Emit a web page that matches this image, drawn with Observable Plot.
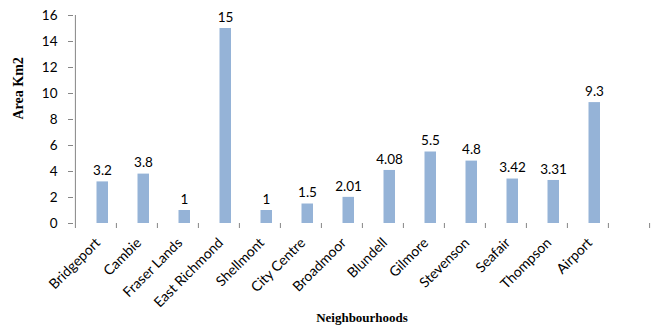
<!DOCTYPE html>
<html>
<head>
<meta charset="utf-8">
<script src="https://cdn.jsdelivr.net/npm/d3@7"></script>
<script src="https://cdn.jsdelivr.net/npm/@observablehq/plot@0.6"></script>
<style>
  html, body { margin: 0; padding: 0; background: #fff; }
  #chart svg { display: block; }
</style>
</head>
<body>
<div id="chart"></div>
<script>
const neighbourhoods = ["Bridgeport", "Cambie", "Fraser Lands", "East Richmond", "Shellmont", "City Centre", "Broadmoor", "Blundell", "Gilmore", "Stevenson", "Seafair", "Thompson", "Airport"];
const areas = [3.2, 3.8, 1, 15, 1, 1.5, 2.01, 4.08, 5.5, 4.8, 3.42, 3.31, 9.3];
const yTicks = [0, 2, 4, 6, 8, 10, 12, 14, 16];
const yTitle = "Area Km2";
const xTitle = "Neighbourhoods";

const data = neighbourhoods.map((n, i) => ({name: n, area: areas[i]}));
const domain = [...neighbourhoods, " "]; // trailing empty category slot

const W = 656, H = 334;
const mL = 73, mR = 6, mT = 15, mB = 111;
const slot = (W - mL - mR) / domain.length;
const gray = "#868686";
const sans = "Lato, 'Open Sans', sans-serif";
const serif = "'Liberation Serif', 'DejaVu Serif', serif";

const chart = Plot.plot({
  width: W,
  height: H,
  marginLeft: mL,
  marginRight: mR,
  marginTop: mT,
  marginBottom: mB,
  style: {fontFamily: sans, fontSize: "13px", color: "#000", background: "#fff"},
  x: {type: "band", domain, padding: 0},
  y: {domain: [0, 16]},
  marks: [
    // gridlines
    Plot.ruleY(yTicks, {y: d => d, x1: domain[0], x2: domain[domain.length - 1], stroke: gray, strokeWidth: 1}),
    // y axis line
    Plot.ruleX([domain[0]], {x: d => d, y1: 0, y2: 16, dx: -slot / 2, stroke: gray}),
    // y tick marks + labels
    Plot.axisY({ticks: yTicks, tickSize: 5, tickPadding: 11, stroke: gray, label: null, fontSize: 13.5, tickFormat: d => d, fill: "#000"}),
    // x tick marks at slot boundaries
    Plot.axisX({ticks: domain, tickSize: 5, text: null, label: null, stroke: gray, dx: -slot / 2}),
    Plot.axisX({ticks: [domain[domain.length - 1]], tickSize: 5, text: null, label: null, stroke: gray, dx: slot / 2}),
    // rotated category labels
    Plot.axisX({ticks: neighbourhoods, tickSize: 0, tickPadding: 17, tickRotate: -45, label: null, fontSize: 14, dx: 2}),
    // bars
    Plot.barY(data, {x: "name", y: "area", fill: "#95B3D7", insetLeft: 21.5, insetRight: 8}),
    // data labels
    Plot.text(data, {x: "name", y: "area", text: d => String(d.area), dy: -11, dx: 6.5, fontSize: 13.5, fill: "#000"}),
    // axis titles
    Plot.text([yTitle], {frameAnchor: "left", text: d => d, rotate: -90, dx: -55, fontFamily: serif, fontWeight: "bold", fontSize: 14, fill: "#000"}),
    Plot.text([xTitle], {frameAnchor: "bottom", text: d => d, dy: 98, fontFamily: serif, fontWeight: "bold", fontSize: 13, fill: "#000"})
  ]
});

document.getElementById("chart").appendChild(chart);
</script>
</body>
</html>
